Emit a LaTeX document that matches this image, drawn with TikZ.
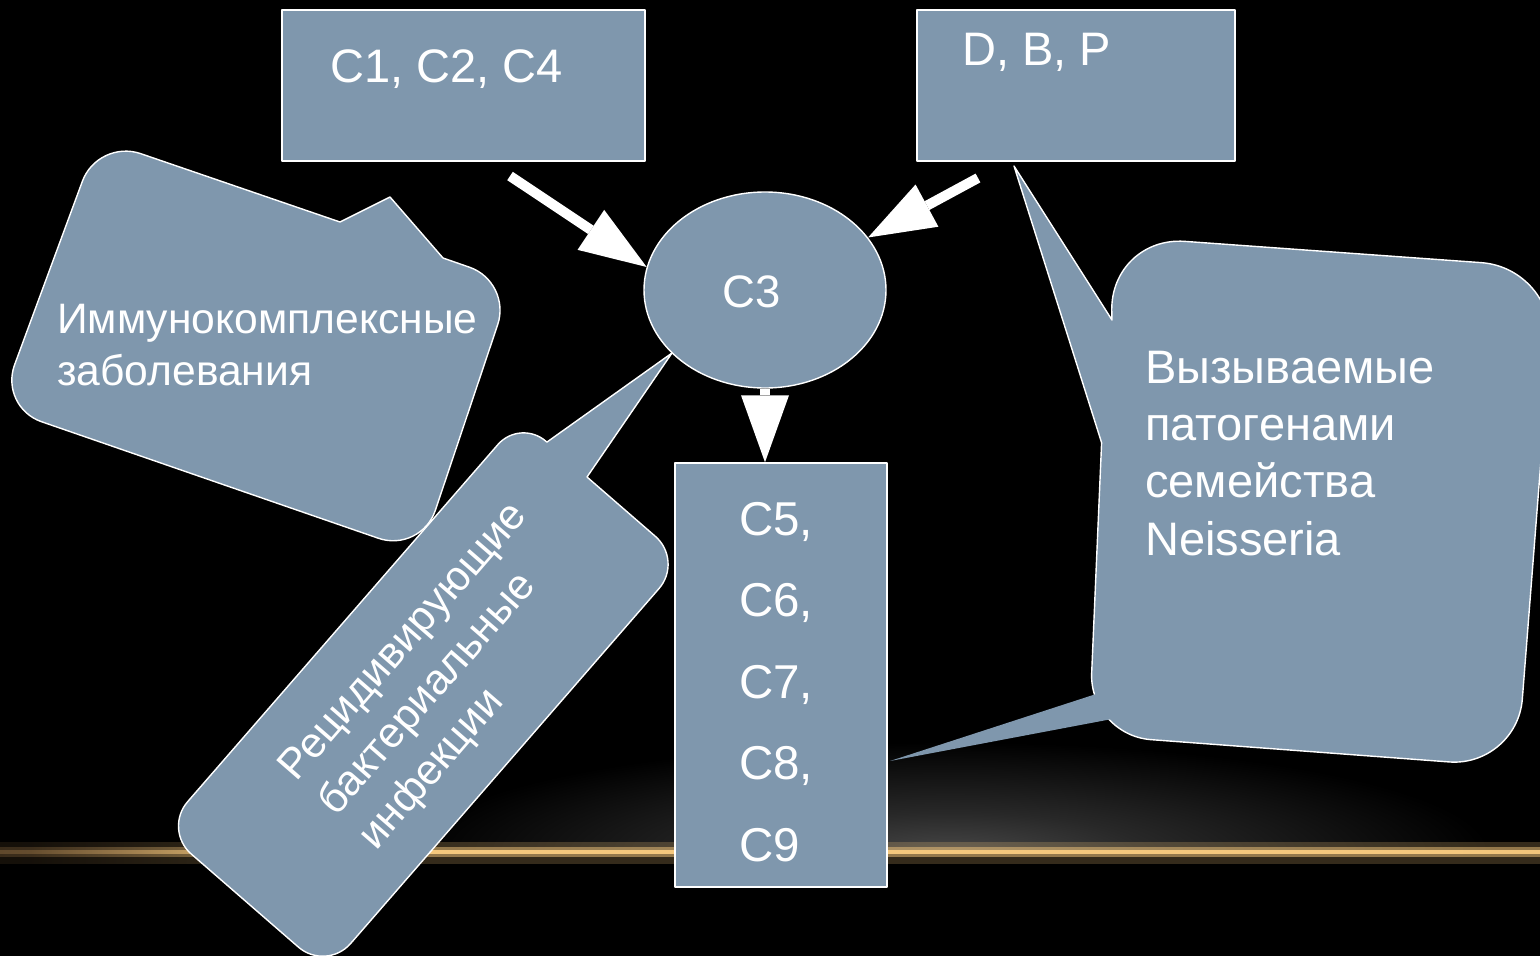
\documentclass[tikz,border=0pt]{standalone}
\usepackage{fontspec}
\setmainfont{Liberation Sans}
\usetikzlibrary{shapes.geometric,arrows.meta,calc}
\definecolor{boxblue}{RGB}{127,151,173}
\definecolor{glowc}{RGB}{70,70,70}
\definecolor{glowd}{RGB}{40,40,40}
\definecolor{lcA}{RGB}{30,24,16}
\definecolor{lcB}{RGB}{100,76,46}
\definecolor{lcC}{RGB}{245,200,125}
\definecolor{lcD}{RGB}{215,170,105}
\pgfdeclareradialshading{bgglow}{\pgfpoint{0bp}{0bp}}{color(0bp)=(glowc); color(9bp)=(glowd); color(25bp)=(black); color(50bp)=(black)}
\pgfdeclarehorizontalshading{linecore}{100bp}{color(0bp)=(black); color(4bp)=(black); color(8bp)=(lcA); color(26bp)=(lcB); color(34bp)=(lcC); color(72bp)=(lcC); color(100bp)=(lcD)}
\begin{document}
\begin{tikzpicture}[x=1pt,y=-1pt,
  shp/.style={fill=boxblue, draw=white, line width=1.4pt, line join=round},
  boxn/.style={shp, rectangle, inner sep=0pt},
  tx/.style={text=white, inner sep=0pt, font=\fontsize{47pt}{57.3pt}\selectfont},
  txs/.style={text=white, inner sep=0pt, font=\fontsize{42.6pt}{52.5pt}\selectfont},
  blockarrow/.style={draw=white, fill=white, line width=10pt, -{Triangle[width=48pt 0 0, length=67pt 0 0, line width=0pt 0 0]}},
  rc/.style n args={4}{insert path={-- ($(#2)!#4!(#1)$) .. controls ($(#2)!0.448*#4!(#1)$) and ($(#2)!0.448*#4!(#3)$) .. ($(#2)!#4!(#3)$)}}
]
\useasboundingbox (0,0) rectangle (1540,956);
\clip (0,0) rectangle (1540,956);
\fill[black] (0,0) rectangle (1540,956);
% background glow
\begin{scope}
  \clip (0,0) rectangle (1540,851);
  \shade[shading=bgglow] (950,852) ellipse [x radius=540pt, y radius=110pt];
\end{scope}
\shade[shading=linecore, opacity=0.22] (0,842) rectangle (1540,863);
\shade[shading=linecore, opacity=0.5] (0,847.5) rectangle (1540,856.5);
\shade[shading=linecore] (0,850.5) rectangle (1540,853.5);

% callout 1
\coordinate (TL1) at (98,139);
\coordinate (TR1) at (512,282);
\coordinate (BR1) at (421,553);
\coordinate (BL1) at (-1,407);
\coordinate (N1l) at (340,222);
\coordinate (N1t) at (390,197);
\coordinate (N1r) at (443,258);
\path[shp] (N1t) -- (N1r) [rc={N1r}{TR1}{BR1}{45pt}] [rc={TR1}{BR1}{BL1}{45pt}] [rc={BR1}{BL1}{TL1}{45pt}] [rc={BL1}{TL1}{N1l}{45pt}] -- (N1l) -- cycle;
\node[txs, anchor=base west, align=left] (t1) at (57,385.5) {Иммунокомплексные\\заболевания};

% callout 2
\coordinate (Ca) at (163.3,829.7);
\coordinate (Cb) at (520.2,418.9);
\coordinate (Cc) at (683.3,560.6);
\coordinate (Cd) at (326.4,971.4);
\coordinate (P1) at (546.9,442.1);
\coordinate (P2) at (587,477);
\coordinate (T2) at (672,353);
\path[shp] (T2) -- (P2) [rc={P2}{Cc}{Cd}{37pt}] [rc={Cc}{Cd}{Ca}{37pt}] [rc={Cd}{Ca}{Cb}{37pt}] [rc={Ca}{Cb}{P1}{34pt}] -- (P1) -- cycle;
\node[txs, anchor=base west, align=left, rotate=49] (t2) at (376,851.6) {Рецидивирующие\\бактериальные\\инфекции};

% callout 3
\coordinate (T3a) at (1014,166);
\coordinate (A3) at (1112,320);
\coordinate (TL3) at (1110,236);
\coordinate (TR3) at (1556,268);
\coordinate (BR3) at (1517,767);
\coordinate (BL3) at (1089,735);
\coordinate (K3) at (1101.6,442.7);
\path[shp] (T3a) -- (A3) [rc={A3}{TL3}{TR3}{75pt}] [rc={TL3}{TR3}{BR3}{75pt}] [rc={TR3}{BR3}{BL3}{68pt}] [rc={BR3}{BL3}{K3}{62pt}] -- (K3) -- cycle;
\coordinate (T3b) at (890,761);
\coordinate (Q1) at (1099.5,692.9);
\coordinate (Q2) at (1116.8,718.1);
\fill[boxblue] (T3b) -- (Q1) -- (Q2) -- cycle;
\node[tx, anchor=base west, align=left] (t3) at (1145,555) {Вызываемые\\патогенами\\семейства\\Neisseria};

% boxes
\node[boxn, minimum width=363pt, minimum height=151pt] (b1) at (463.5,85.5) {};
\node[tx, anchor=base west] (t1b) at (330,82) {C1, C2, C4};
\node[boxn, minimum width=318pt, minimum height=151pt] (b2) at (1076,85.5) {};
\node[tx, anchor=base west] (t2b) at (962,65) {D, B, P};
\node[boxn, minimum width=212pt, minimum height=424pt] (c5) at (781,675) {};
\node[tx, anchor=base west, align=left, font=\fontsize{47.5pt}{81.5pt}\selectfont] (t5) at (739,861) {C5,\\C6,\\C7,\\C8,\\C9};
\node[shp, ellipse, minimum width=242pt, minimum height=196pt, inner sep=0pt] (c3) at (765,290) {};
\node[text=white, inner sep=0pt, font=\fontsize{45.5pt}{54pt}\selectfont, anchor=base west] (t3c) at (722,307) {C3};

% arrows
\coordinate (a1) at (510,176);
\coordinate (a2) at (978,178);
\draw[blockarrow] (a1) -- (c3.169);
\draw[blockarrow] (a2) -- (c3.27);
\draw[blockarrow] (c3.south) -- (c3.south |- c5.north);
\end{tikzpicture}
\end{document}
